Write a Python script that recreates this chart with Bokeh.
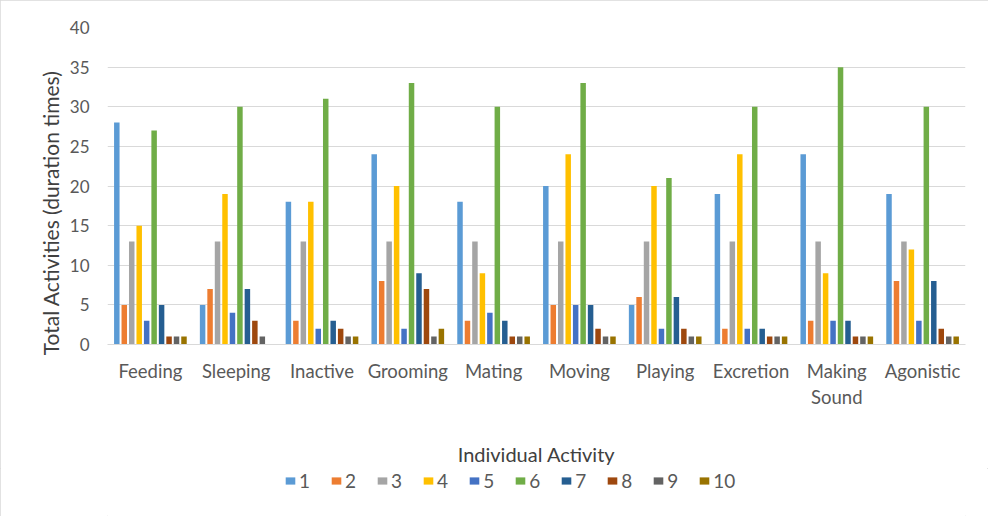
from bokeh.plotting import figure
from bokeh.layouts import column
from bokeh.models import ColumnDataSource, FactorRange, Range1d, FixedTicker, Legend, LegendItem
from bokeh.transform import dodge
from bokeh.embed import file_html
from bokeh.resources import INLINE

categories = ["Feeding", "Sleeping", "Inactive", "Grooming", "Mating", "Moving",
              "Playing", "Excretion", "Making\nSound", "Agonistic"]
series_names = ["1", "2", "3", "4", "5", "6", "7", "8", "9", "10"]
s1 = [28, 5, 18, 24, 18, 20, 5, 19, 24, 19]
s2 = [5, 7, 3, 8, 3, 5, 6, 2, 3, 8]
s3 = [13, 13, 13, 13, 13, 13, 13, 13, 13, 13]
s4 = [15, 19, 18, 20, 9, 24, 20, 24, 9, 12]
s5 = [3, 4, 2, 2, 4, 5, 2, 2, 3, 3]
s6 = [27, 30, 31, 33, 30, 33, 21, 30, 35, 30]
s7 = [5, 7, 3, 9, 3, 5, 6, 2, 3, 8]
s8 = [1, 3, 2, 7, 1, 2, 2, 1, 1, 2]
s9 = [1, 1, 1, 1, 1, 1, 1, 1, 1, 1]
s10 = [1, 0, 1, 2, 1, 1, 1, 1, 1, 1]
y_ticks = [0, 5, 10, 15, 20, 25, 30, 35, 40]
colors = ["#5B9BD5", "#ED7D31", "#A5A5A5", "#FFC000", "#4472C4",
          "#70AD47", "#255E91", "#9E480E", "#636363", "#997300"]

series = [s1, s2, s3, s4, s5, s6, s7, s8, s9, s10]
data = {"cat": categories}
for name, vals in zip(series_names, series):
    data["s" + name] = vals
source = ColumnDataSource(data)

FONT = "Lato"

p = figure(x_range=FactorRange(*categories, range_padding=0), y_range=Range1d(0, 40),
           width=988, height=468, output_backend="svg", toolbar_location=None,
           min_border_left=107, min_border_right=23, min_border_top=27, min_border_bottom=123)
p.outline_line_color = None

step = 0.087
width = 0.064
for j, name in enumerate(series_names):
    p.vbar(x=dodge("cat", (j - 4.5) * step, range=p.x_range), top="s" + name,
           width=width, source=source, fill_color=colors[j], line_color=None)

p.yaxis.ticker = FixedTicker(ticks=y_ticks)
p.yaxis.axis_line_color = None
p.yaxis.major_tick_line_color = None
p.yaxis.minor_tick_line_color = None
p.yaxis.major_label_text_font = FONT
p.yaxis.major_label_text_font_size = "17px"
p.yaxis.major_label_text_color = "#595959"
p.yaxis.major_label_standoff = 12
# trailing no-break spaces nudge the centred title down, as in the reference
p.yaxis.axis_label = "Total  Activities (duration times)" + "\u00a0" * 9
p.yaxis.axis_label_text_font = FONT
p.yaxis.axis_label_text_font_size = "21px"
p.yaxis.axis_label_text_font_style = "normal"
p.yaxis.axis_label_text_color = "#404040"
p.yaxis.axis_label_standoff = 4

p.xaxis.axis_line_color = "#D9D9D9"
p.xaxis.major_tick_line_color = None
p.xaxis.minor_tick_line_color = None
p.xaxis.major_label_text_font = FONT
p.xaxis.major_label_text_font_size = "18.5px"
p.xaxis.major_label_text_color = "#595959"
p.xaxis.major_label_standoff = 9
p.xaxis.axis_label = "Individual Activity"
p.xaxis.axis_label_text_font = FONT
p.xaxis.axis_label_text_font_size = "20px"
p.xaxis.axis_label_text_font_style = "normal"
p.xaxis.axis_label_text_color = "#404040"
p.xaxis.axis_label_standoff = 31

p.xgrid.grid_line_color = None
p.ygrid.grid_line_color = "#D9D9D9"
p.ygrid.grid_line_width = 1

# legend strip below the chart: same series, drawn outside its (off-scale) view
lf = figure(width=988, height=48, output_backend="svg", toolbar_location=None,
            x_range=FactorRange(*categories, range_padding=0), y_range=Range1d(1000, 1001),
            x_axis_type=None, y_axis_type=None,
            min_border_left=0, min_border_right=0, min_border_top=0, min_border_bottom=0)
lf.outline_line_color = None
lf.grid.visible = False
items = []
for j, name in enumerate(series_names):
    r = lf.vbar(x=dodge("cat", (j - 4.5) * step, range=lf.x_range), top="s" + name,
                width=width, source=source, fill_color=colors[j], line_color=None)
    items.append(LegendItem(label=name, renderers=[r]))
legend = Legend(items=items, orientation="horizontal", location=(177, 24),
                glyph_width=12, glyph_height=9, label_standoff=3, spacing=20, label_width=11,
                padding=0, margin=0, border_line_color=None, background_fill_alpha=0,
                label_text_font=FONT, label_text_font_size="19px", label_text_color="#595959")
lf.add_layout(legend, "center")

layout = column(p, lf, spacing=0)
layout.styles = {"outline": "1px solid #D9D9D9", "outline-offset": "-1px"}

open("out.html", "w").write(file_html(layout, INLINE))
